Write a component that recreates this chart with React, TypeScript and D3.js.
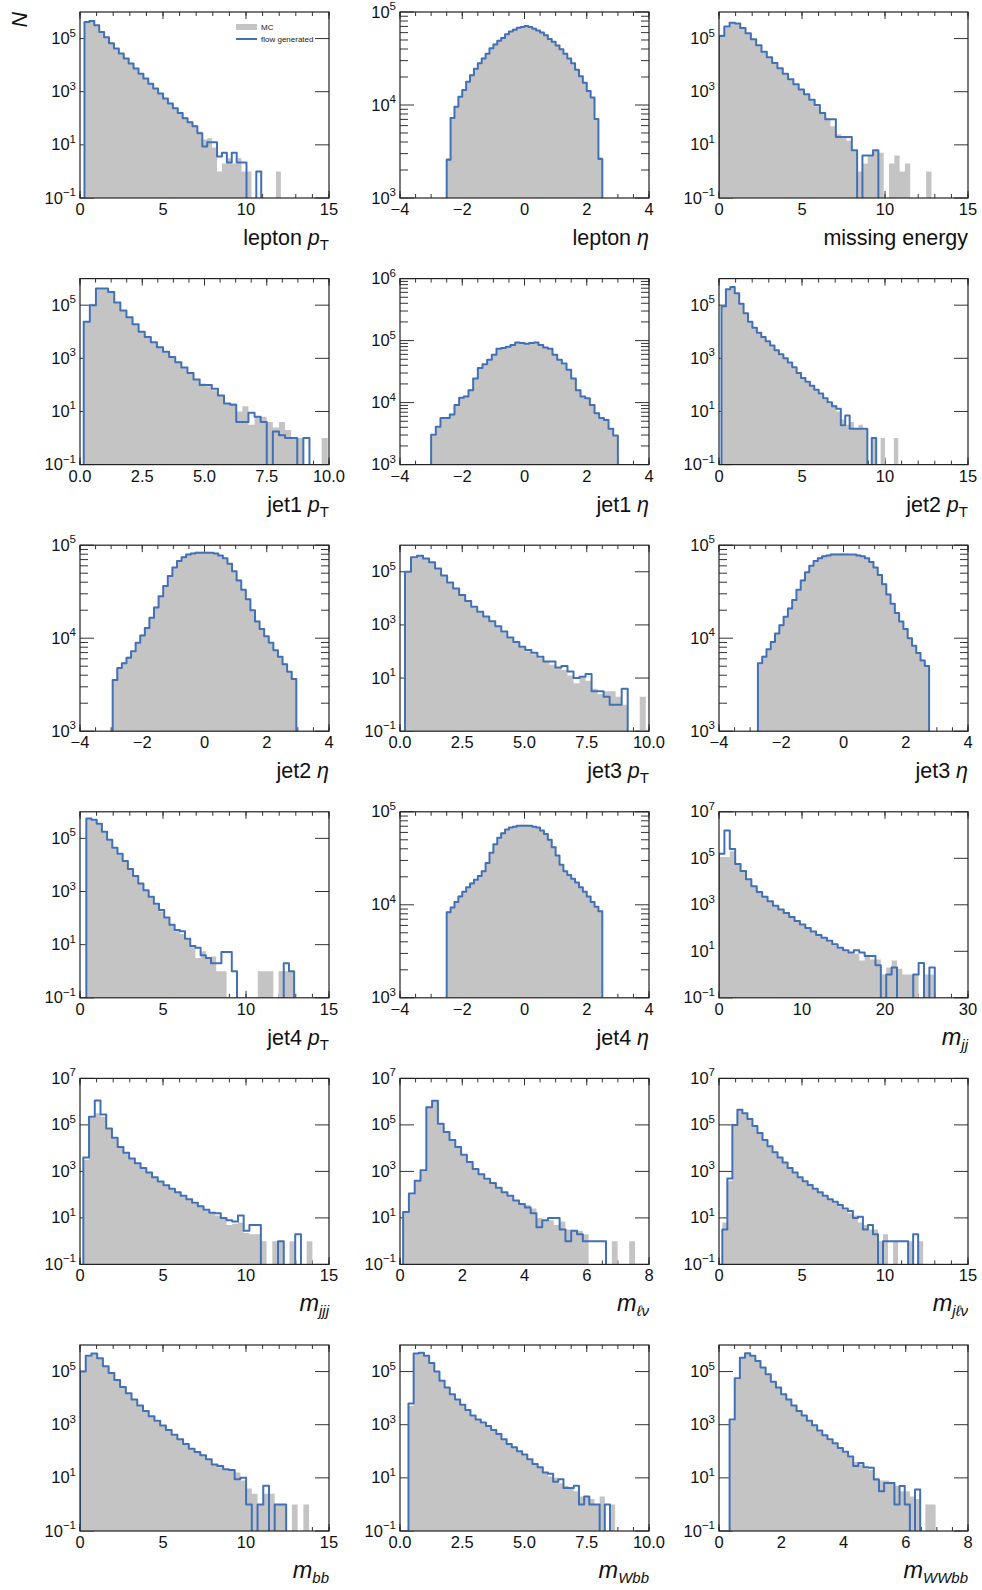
import React from 'react'
import * as d3 from 'd3'

type Series = (number | null)[]

// bin contents are log10(N); null = empty bin
// every histogram has 40 equal bins between [first, last] edge

const leptonPtBins = [0.27, 12.1]
const leptonPtFlow: Series = [5.62, 5.66, 5.5, 5.25, 5.05, 4.82, 4.63, 4.44, 4.25, 4.06, 3.87, 3.68, 3.5, 3.3, 3.12, 2.93, 2.74, 2.56, 2.38, 2.2, 2.0, 1.85, 1.7, 1.44, 0.94, 1.1, 1.1, 0.56, 0.7, 0.34, 0.7, 0.34, 0.34, null, null, 0.0, null, null, null, null]
const leptonPtMC: Series = [5.6, 5.65, 5.52, 5.27, 5.05, 4.84, 4.64, 4.45, 4.26, 4.07, 3.88, 3.7, 3.5, 3.32, 3.13, 2.95, 2.76, 2.58, 2.4, 2.2, 2.05, 1.9, 1.75, 1.5, 1.2, 1.25, 0.9, 0.0, 0.3, 0.5, 0.3, 0.5, 0.0, 0.0, null, null, null, null, null, 0.0]

const leptonEtaBins = [-2.5, 2.5]
const leptonEtaFlow: Series = [3.41, 3.86, 3.98, 4.09, 4.16, 4.25, 4.32, 4.39, 4.45, 4.5, 4.55, 4.61, 4.65, 4.69, 4.72, 4.76, 4.79, 4.81, 4.83, 4.84, 4.85, 4.84, 4.82, 4.8, 4.78, 4.75, 4.71, 4.68, 4.64, 4.6, 4.55, 4.5, 4.45, 4.38, 4.31, 4.24, 4.15, 4.08, 3.85, 3.42]
const leptonEtaMC: Series = [3.43, 3.87, 3.99, 4.09, 4.17, 4.25, 4.33, 4.39, 4.45, 4.51, 4.56, 4.61, 4.66, 4.69, 4.73, 4.76, 4.79, 4.82, 4.83, 4.85, 4.85, 4.84, 4.83, 4.8, 4.78, 4.75, 4.72, 4.68, 4.64, 4.6, 4.56, 4.5, 4.45, 4.39, 4.31, 4.24, 4.16, 4.08, 3.86, 3.44]

const missingEBins = [0, 12.8]
const missingEFlow: Series = [5.1, 5.45, 5.6, 5.57, 5.4, 5.2, 4.97, 4.75, 4.5, 4.3, 4.08, 3.88, 3.68, 3.47, 3.28, 3.08, 2.9, 2.7, 2.5, 2.2, 1.96, 1.96, 1.3, 1.3, 1.3, 0.8, null, 0.6, 0.6, 0.8, null, null, null, null, null, null, null, null, null, null]
const missingEMC: Series = [5.15, 5.42, 5.58, 5.55, 5.38, 5.18, 4.95, 4.73, 4.5, 4.28, 4.06, 3.86, 3.66, 3.47, 3.27, 3.07, 2.88, 2.68, 2.45, 2.25, 2.0, 1.7, 1.4, 1.3, 1.15, 0.8, 0.0, 0.3, 0.6, 0.8, 0.7, null, 0.3, 0.6, 0.0, 0.3, null, null, null, 0.0]

const jet1PtBins = [0.15, 9.95]
const jet1PtFlow: Series = [4.38, 5.0, 5.63, 5.63, 5.5, 5.1, 4.8, 4.55, 4.28, 4.0, 3.8, 3.6, 3.42, 3.25, 3.05, 2.85, 2.65, 2.45, 2.2, 2.0, 2.0, 1.85, 1.6, 1.3, 1.25, 0.6, 0.6, 0.95, 0.8, 0.6, null, 0.25, 0.1, 0.0, 0.0, null, 0.0, null, null, null]
const jet1PtMC: Series = [4.4, 5.05, 5.6, 5.62, 5.48, 5.1, 4.8, 4.55, 4.28, 4.0, 3.78, 3.58, 3.4, 3.23, 3.05, 2.85, 2.65, 2.45, 2.2, 2.05, 1.95, 1.8, 1.6, 1.3, 1.3, 1.0, 1.2, 0.5, 0.8, 0.8, 0.6, 0.4, 0.6, 0.3, 0.0, 0.0, null, null, null, 0.0]

const jet1EtaBins = [-3, 3]
const jet1EtaFlow: Series = [3.48, 3.61, 3.75, 3.75, 3.81, 3.96, 4.08, 4.1, 4.2, 4.39, 4.56, 4.62, 4.69, 4.77, 4.87, 4.88, 4.9, 4.93, 4.97, 4.96, 4.95, 4.96, 4.97, 4.93, 4.89, 4.87, 4.77, 4.69, 4.63, 4.53, 4.39, 4.2, 4.1, 4.07, 3.96, 3.83, 3.75, 3.72, 3.58, 3.47]
const jet1EtaMC: Series = [3.47, 3.62, 3.74, 3.76, 3.82, 3.95, 4.07, 4.11, 4.21, 4.38, 4.55, 4.62, 4.7, 4.78, 4.86, 4.88, 4.91, 4.93, 4.96, 4.96, 4.95, 4.95, 4.96, 4.93, 4.9, 4.86, 4.78, 4.7, 4.62, 4.53, 4.38, 4.21, 4.11, 4.06, 3.96, 3.84, 3.76, 3.71, 3.59, 3.46]

const jet2PtBins = [0.15, 10.8]
const jet2PtFlow: Series = [4.95, 5.6, 5.68, 5.45, 5.05, 4.7, 4.38, 4.15, 3.96, 3.8, 3.64, 3.48, 3.3, 3.15, 3.0, 2.84, 2.66, 2.45, 2.26, 2.12, 1.97, 1.82, 1.68, 1.5, 1.35, 1.2, 1.1, 0.48, 0.85, 0.35, 0.35, 0.35, 0.35, null, 0.0, null, null, null, null, null]
const jet2PtMC: Series = [4.9, 5.58, 5.66, 5.45, 5.05, 4.7, 4.38, 4.15, 3.96, 3.78, 3.62, 3.46, 3.28, 3.12, 2.98, 2.82, 2.64, 2.43, 2.25, 2.1, 1.95, 1.8, 1.65, 1.45, 1.3, 1.25, 1.0, 0.7, 0.5, 0.6, 0.35, 0.5, 0.35, null, 0.0, null, 0.0, null, null, 0.0]

const jet2EtaBins = [-2.95, 2.95]
const jet2EtaFlow: Series = [3.55, 3.68, 3.73, 3.79, 3.86, 3.95, 4.03, 4.11, 4.22, 4.33, 4.45, 4.56, 4.67, 4.76, 4.83, 4.87, 4.9, 4.91, 4.92, 4.92, 4.92, 4.92, 4.91, 4.89, 4.86, 4.8, 4.72, 4.62, 4.52, 4.42, 4.3, 4.18, 4.1, 4.02, 3.95, 3.87, 3.8, 3.72, 3.64, 3.56]
const jet2EtaMC: Series = [3.56, 3.67, 3.74, 3.8, 3.85, 3.95, 4.04, 4.12, 4.22, 4.34, 4.45, 4.57, 4.67, 4.76, 4.83, 4.88, 4.9, 4.92, 4.93, 4.93, 4.93, 4.92, 4.91, 4.89, 4.86, 4.8, 4.72, 4.63, 4.52, 4.41, 4.3, 4.19, 4.1, 4.02, 3.94, 3.87, 3.8, 3.73, 3.64, 3.57]

const jet3PtBins = [0.2, 9.87]
const jet3PtFlow: Series = [5.0, 5.55, 5.6, 5.5, 5.36, 5.12, 4.86, 4.6, 4.37, 4.13, 3.9, 3.68, 3.5, 3.32, 3.14, 2.95, 2.75, 2.53, 2.36, 2.18, 2.06, 1.95, 1.8, 1.62, 1.62, 1.4, 1.45, 1.25, 1.0, 1.05, 1.15, 0.5, 0.5, 0.3, 0.0, 0.0, 0.6, null, null, null]
const jet3PtMC: Series = [4.95, 5.5, 5.58, 5.5, 5.35, 5.1, 4.85, 4.58, 4.35, 4.1, 3.88, 3.66, 3.47, 3.3, 3.1, 2.92, 2.72, 2.5, 2.33, 2.15, 2.0, 1.9, 1.75, 1.6, 1.5, 1.4, 1.3, 1.1, 0.8, 1.0, 0.9, 0.6, 0.4, 0.5, 0.5, 0.3, 0.0, null, null, 0.3]

const jet3EtaBins = [-2.75, 2.75]
const jet3EtaFlow: Series = [3.73, 3.8, 3.88, 3.96, 4.05, 4.14, 4.23, 4.32, 4.41, 4.52, 4.62, 4.71, 4.78, 4.83, 4.86, 4.88, 4.89, 4.9, 4.9, 4.9, 4.9, 4.9, 4.9, 4.89, 4.88, 4.86, 4.82, 4.76, 4.68, 4.58, 4.47, 4.37, 4.27, 4.18, 4.1, 4.0, 3.92, 3.84, 3.76, 3.7]
const jet3EtaMC: Series = [3.72, 3.81, 3.88, 3.97, 4.05, 4.15, 4.23, 4.33, 4.42, 4.52, 4.63, 4.71, 4.78, 4.83, 4.87, 4.89, 4.9, 4.91, 4.91, 4.91, 4.91, 4.9, 4.9, 4.9, 4.88, 4.86, 4.82, 4.76, 4.68, 4.59, 4.48, 4.37, 4.27, 4.18, 4.09, 4.0, 3.92, 3.84, 3.77, 3.7]

const jet4PtBins = [0.38, 12.9]
const jet4PtFlow: Series = [5.75, 5.7, 5.55, 5.25, 4.95, 4.65, 4.42, 4.15, 3.85, 3.58, 3.3, 3.05, 2.8, 2.54, 2.3, 2.02, 1.75, 1.55, 1.5, 1.22, 0.95, 0.88, 0.6, 0.5, 0.3, 0.3, 0.72, 0.72, 0.0, null, null, null, null, null, null, null, null, null, 0.3, 0.0]
const jet4PtMC: Series = [5.72, 5.68, 5.52, 5.22, 4.93, 4.63, 4.4, 4.12, 3.83, 3.55, 3.28, 3.02, 2.78, 2.5, 2.25, 2.0, 1.75, 1.5, 1.4, 1.2, 0.9, 0.5, 0.75, 0.5, 0.55, 0.0, 0.0, null, null, null, null, null, null, 0.0, 0.0, 0.0, null, 0.0, 0.0, 0.0]

const jet4EtaBins = [-2.5, 2.5]
const jet4EtaFlow: Series = [3.92, 3.97, 4.03, 4.09, 4.14, 4.19, 4.23, 4.27, 4.31, 4.36, 4.45, 4.56, 4.65, 4.72, 4.77, 4.81, 4.83, 4.84, 4.85, 4.85, 4.85, 4.85, 4.84, 4.83, 4.8, 4.76, 4.7, 4.62, 4.53, 4.43, 4.36, 4.32, 4.28, 4.24, 4.19, 4.14, 4.09, 4.03, 3.98, 3.93]
const jet4EtaMC: Series = [3.93, 3.98, 4.03, 4.1, 4.14, 4.19, 4.24, 4.27, 4.32, 4.36, 4.46, 4.56, 4.65, 4.72, 4.78, 4.81, 4.83, 4.85, 4.85, 4.86, 4.86, 4.85, 4.84, 4.83, 4.8, 4.76, 4.7, 4.63, 4.53, 4.44, 4.36, 4.32, 4.28, 4.24, 4.19, 4.14, 4.09, 4.04, 3.98, 3.94]

const mjjBins = [0, 26]
const mjjFlow: Series = [5.2, 6.2, 5.4, 4.75, 4.45, 4.1, 3.8, 3.55, 3.35, 3.15, 2.96, 2.8, 2.65, 2.48, 2.3, 2.15, 2.0, 1.85, 1.7, 1.58, 1.45, 1.3, 1.15, 1.05, 0.95, 1.05, 0.95, 0.8, 0.8, 0.4, null, 0.0, 0.3, null, null, null, 0.0, 0.5, null, 0.3]
const mjjMC: Series = [5.05, 5.05, 5.3, 4.72, 4.42, 4.08, 3.78, 3.52, 3.32, 3.12, 2.94, 2.78, 2.62, 2.45, 2.28, 2.12, 1.97, 1.82, 1.67, 1.55, 1.4, 1.25, 1.1, 1.0, 0.95, 0.9, 0.6, 0.85, 0.65, 0.65, 0.0, 0.3, 0.6, 0.25, 0.0, 0.0, 0.0, null, 0.0, 0.0]

const mjjjBins = [0.2, 14.0]
const mjjjFlow: Series = [3.6, 5.35, 6.05, 5.45, 4.85, 4.45, 4.05, 3.8, 3.55, 3.35, 3.15, 2.95, 2.75, 2.57, 2.4, 2.25, 2.1, 1.95, 1.8, 1.65, 1.5, 1.35, 1.22, 1.2, 1.0, 0.9, 0.85, 1.1, 0.45, 0.7, 0.7, null, null, null, 0.0, null, null, 0.3, null, null]
const mjjjMC: Series = [3.5, 5.3, 5.5, 5.35, 4.82, 4.43, 4.03, 3.78, 3.53, 3.33, 3.13, 2.93, 2.73, 2.55, 2.38, 2.23, 2.08, 1.93, 1.78, 1.62, 1.48, 1.3, 1.2, 1.1, 1.0, 0.7, 0.75, 0.8, 0.35, 0.3, 0.3, 0.0, null, 0.0, 0.0, null, 0.0, null, null, 0.0]

const mlvBins = [0.1, 7.55]
const mlvFlow: Series = [1.25, 2.05, 2.6, 3.05, 5.76, 6.04, 5.05, 4.7, 4.35, 4.05, 3.72, 3.4, 3.1, 2.88, 2.68, 2.5, 2.3, 2.1, 1.95, 1.75, 1.6, 1.45, 1.2, 0.6, 0.9, 1.0, 1.0, 0.5, 0.0, 0.45, 0.3, 0.0, 0.0, 0.0, 0.0, null, null, null, null, null]
const mlvMC: Series = [1.3, 2.0, 2.6, 3.0, 5.78, 6.02, 5.05, 4.68, 4.33, 4.03, 3.7, 3.38, 3.08, 2.86, 2.65, 2.47, 2.27, 2.08, 1.93, 1.73, 1.58, 1.55, 1.4, 1.0, 0.9, 0.9, 0.7, 0.85, 0.5, 0.45, 0.45, 0.3, null, null, null, null, 0.0, null, null, 0.0]

const mjlvBins = [0.2, 12.3]
const mjlvFlow: Series = [0.5, 2.7, 5.0, 5.65, 5.5, 5.25, 4.95, 4.65, 4.35, 4.08, 3.82, 3.6, 3.38, 3.15, 2.95, 2.75, 2.58, 2.42, 2.25, 2.1, 1.95, 1.8, 1.7, 1.55, 1.4, 1.3, 1.0, 1.05, 0.5, 0.7, 0.3, null, 0.0, 0.0, 0.0, 0.0, 0.0, null, 0.3, null]
const mjlvMC: Series = [0.8, 2.6, 4.95, 5.62, 5.5, 5.23, 4.93, 4.63, 4.33, 4.06, 3.8, 3.58, 3.36, 3.13, 2.93, 2.73, 2.56, 2.4, 2.23, 2.08, 1.93, 1.78, 1.65, 1.5, 1.35, 1.2, 1.1, 0.8, 0.7, 0.5, 0.5, 0.0, 0.3, null, 0.0, null, null, 0.0, null, 0.0]

const mbbBins = [0, 13.8]
const mbbFlow: Series = [5.0, 5.6, 5.68, 5.5, 5.2, 4.95, 4.68, 4.42, 4.18, 3.95, 3.72, 3.52, 3.32, 3.15, 2.97, 2.8, 2.62, 2.45, 2.27, 2.1, 1.97, 1.85, 1.7, 1.5, 1.45, 1.32, 1.3, 0.95, 1.0, 0.0, null, 0.0, 0.7, null, 0.0, 0.0, null, null, null, null]
const mbbMC: Series = [5.05, 5.55, 5.65, 5.5, 5.2, 4.93, 4.66, 4.4, 4.16, 3.93, 3.7, 3.5, 3.3, 3.12, 2.95, 2.78, 2.6, 2.43, 2.25, 2.08, 1.95, 1.82, 1.68, 1.5, 1.4, 1.3, 1.3, 1.2, 0.9, 0.6, 0.4, 0.0, 0.4, 0.4, 0.0, 0.0, null, 0.0, null, 0.0]

const mwbbBins = [0.34, 8.64]
const mwbbFlow: Series = [3.8, 5.68, 5.71, 5.6, 5.32, 5.0, 4.65, 4.4, 4.15, 3.95, 3.75, 3.55, 3.35, 3.2, 3.08, 2.95, 2.8, 2.65, 2.45, 2.27, 2.15, 2.0, 1.88, 1.7, 1.52, 1.4, 1.2, 1.15, 0.85, 0.95, 0.62, 0.62, 0.7, 0.0, 0.3, 0.0, 0.0, null, 0.0, null]
const mwbbMC: Series = [3.7, 5.65, 5.7, 5.58, 5.3, 4.98, 4.63, 4.38, 4.13, 3.93, 3.73, 3.53, 3.33, 3.18, 3.05, 2.92, 2.77, 2.62, 2.43, 2.25, 2.12, 1.98, 1.85, 1.68, 1.5, 1.38, 1.2, 1.05, 1.0, 0.8, 0.7, 0.6, 0.5, 0.3, 0.3, 0.2, 0.0, 0.3, null, 0.0]

const mwwbbBins = [0.34, 6.96]
const mwwbbFlow: Series = [3.2, 4.75, 5.52, 5.69, 5.6, 5.4, 5.15, 4.9, 4.62, 4.4, 4.15, 3.95, 3.72, 3.52, 3.35, 3.15, 2.98, 2.78, 2.6, 2.45, 2.3, 2.12, 1.98, 1.8, 1.45, 1.56, 1.4, 1.38, 0.94, 0.5, 0.81, 0.81, 0.0, 0.69, 0.0, null, 0.56, null, null, null]
const mwwbbMC: Series = [3.15, 4.7, 5.5, 5.67, 5.58, 5.38, 5.13, 4.88, 4.6, 4.38, 4.13, 3.93, 3.7, 3.5, 3.33, 3.13, 2.96, 2.76, 2.58, 2.42, 2.27, 2.1, 1.95, 1.78, 1.6, 1.5, 1.35, 1.3, 1.0, 0.9, 0.9, 0.8, 0.7, 0.5, 0.5, 0.3, 0.2, null, 0.0, 0.0]

// x-axis ticks
const ticks15 = [0, 5, 10, 15]
const ticks10 = [0, 2.5, 5, 7.5, 10]
const ticksEta = [-4, -2, 0, 2, 4]
const ticks30 = [0, 10, 20, 30]
const ticks8 = [0, 2, 4, 6, 8]

type Label = { pre?: string; sym?: string; sub?: string; subItalic?: boolean }

const panels: { label: Label; ticks: number[]; bins: number[]; yExp: number[]; mc: Series; flow: Series }[] = [
  { label: { pre: 'lepton ', sym: 'p', sub: 'T' }, ticks: ticks15, bins: leptonPtBins, yExp: [-1, 6], mc: leptonPtMC, flow: leptonPtFlow },
  { label: { pre: 'lepton ', sym: 'η' }, ticks: ticksEta, bins: leptonEtaBins, yExp: [3, 5], mc: leptonEtaMC, flow: leptonEtaFlow },
  { label: { pre: 'missing energy' }, ticks: ticks15, bins: missingEBins, yExp: [-1, 6], mc: missingEMC, flow: missingEFlow },
  { label: { pre: 'jet1 ', sym: 'p', sub: 'T' }, ticks: ticks10, bins: jet1PtBins, yExp: [-1, 6], mc: jet1PtMC, flow: jet1PtFlow },
  { label: { pre: 'jet1 ', sym: 'η' }, ticks: ticksEta, bins: jet1EtaBins, yExp: [3, 6], mc: jet1EtaMC, flow: jet1EtaFlow },
  { label: { pre: 'jet2 ', sym: 'p', sub: 'T' }, ticks: ticks15, bins: jet2PtBins, yExp: [-1, 6], mc: jet2PtMC, flow: jet2PtFlow },
  { label: { pre: 'jet2 ', sym: 'η' }, ticks: ticksEta, bins: jet2EtaBins, yExp: [3, 5], mc: jet2EtaMC, flow: jet2EtaFlow },
  { label: { pre: 'jet3 ', sym: 'p', sub: 'T' }, ticks: ticks10, bins: jet3PtBins, yExp: [-1, 6], mc: jet3PtMC, flow: jet3PtFlow },
  { label: { pre: 'jet3 ', sym: 'η' }, ticks: ticksEta, bins: jet3EtaBins, yExp: [3, 5], mc: jet3EtaMC, flow: jet3EtaFlow },
  { label: { pre: 'jet4 ', sym: 'p', sub: 'T' }, ticks: ticks15, bins: jet4PtBins, yExp: [-1, 6], mc: jet4PtMC, flow: jet4PtFlow },
  { label: { pre: 'jet4 ', sym: 'η' }, ticks: ticksEta, bins: jet4EtaBins, yExp: [3, 5], mc: jet4EtaMC, flow: jet4EtaFlow },
  { label: { sym: 'm', sub: 'jj', subItalic: true }, ticks: ticks30, bins: mjjBins, yExp: [-1, 7], mc: mjjMC, flow: mjjFlow },
  { label: { sym: 'm', sub: 'jjj', subItalic: true }, ticks: ticks15, bins: mjjjBins, yExp: [-1, 7], mc: mjjjMC, flow: mjjjFlow },
  { label: { sym: 'm', sub: 'ℓν', subItalic: true }, ticks: ticks8, bins: mlvBins, yExp: [-1, 7], mc: mlvMC, flow: mlvFlow },
  { label: { sym: 'm', sub: 'jℓν', subItalic: true }, ticks: ticks15, bins: mjlvBins, yExp: [-1, 7], mc: mjlvMC, flow: mjlvFlow },
  { label: { sym: 'm', sub: 'bb', subItalic: true }, ticks: ticks15, bins: mbbBins, yExp: [-1, 6], mc: mbbMC, flow: mbbFlow },
  { label: { sym: 'm', sub: 'Wbb', subItalic: true }, ticks: ticks10, bins: mwbbBins, yExp: [-1, 6], mc: mwbbMC, flow: mwbbFlow },
  { label: { sym: 'm', sub: 'WWbb', subItalic: true }, ticks: ticks8, bins: mwwbbBins, yExp: [-1, 6], mc: mwwbbMC, flow: mwwbbFlow },
]

const FONT = '"Liberation Sans", Arial, "DejaVu Sans", sans-serif'
const MC_COLOR = '#c4c4c4'
const FLOW_COLOR = '#4270b6'
const colX = [80, 400, 719]
const top0 = 12
const rowStep = 266.6
const W = 249
const H = 186

const Panel = ({ p, idx }: { p: (typeof panels)[number]; idx: number }) => {
  const left = colX[idx % 3]
  const topY = top0 + Math.floor(idx / 3) * rowStep
  const bottom = topY + H
  const right = left + W

  const x = d3.scaleLinear().domain([p.ticks[0], p.ticks[p.ticks.length - 1]]).range([left, right])
  const y = d3.scaleLog().domain([10 ** p.yExp[0], 10 ** p.yExp[1]]).range([bottom, topY])
  const yv = (v: number | null) => (v == null ? bottom + 4 : y(10 ** v))

  const n = p.flow.length
  const edges = d3.range(n + 1).map(i => p.bins[0] + ((p.bins[1] - p.bins[0]) * i) / n)

  const mcPts: [number, number | null][] = edges.map((e, i) => [e, p.mc[Math.min(i, n - 1)]])
  const area = d3.area<[number, number | null]>()
    .x(d => x(d[0]))
    .y0(bottom + 4)
    .y1(d => yv(d[1]))
    .curve(d3.curveStepAfter)

  const flowPts: [number, number | null][] = [
    [edges[0], null],
    ...edges.map((e, i) => [e, p.flow[Math.min(i, n - 1)]] as [number, number | null]),
    [edges[n], null],
  ]
  const line = d3.line<[number, number | null]>()
    .x(d => x(d[0]))
    .y(d => yv(d[1]))
    .curve(d3.curveStepAfter)

  // y ticks
  const span = p.yExp[1] - p.yExp[0]
  const yMajor = d3.range(p.yExp[0], p.yExp[1] + 0.001, span > 3 ? 2 : 1)
  const yMinor = span > 3 ? [] : d3.range(p.yExp[0], p.yExp[1]).flatMap(e => d3.range(2, 10).map(m => m * 10 ** e))

  // x ticks
  const step = p.ticks[1] - p.ticks[0]
  const ndiv = step === 5 || step === 10 ? 5 : 4
  const xMinor = d3.range(p.ticks[0], p.ticks[p.ticks.length - 1] + 1e-9, step / ndiv)
  const fmt = d3.format(step % 1 ? '.1f' : 'd')

  const clipId = `clip${idx}`
  const tk = '#333'

  return (
    <g>
      <defs>
        <clipPath id={clipId}>
          <rect x={left} y={topY} width={W} height={H} />
        </clipPath>
      </defs>
      {/* ticks, under the histograms */}
      <g stroke={tk} strokeWidth={1}>
        {yMajor.map(e => (
          <g key={`ym${e}`}>
            <line x1={left} x2={left + 14} y1={y(10 ** e)} y2={y(10 ** e)} />
            <line x1={right - 14} x2={right} y1={y(10 ** e)} y2={y(10 ** e)} />
          </g>
        ))}
        {yMinor.map(v => (
          <g key={`yn${v}`}>
            <line x1={left} x2={left + 8} y1={y(v)} y2={y(v)} />
            <line x1={right - 8} x2={right} y1={y(v)} y2={y(v)} />
          </g>
        ))}
        {xMinor.map(v => (
          <g key={`xn${v}`}>
            <line x1={x(v)} x2={x(v)} y1={bottom} y2={bottom - 4} />
            <line x1={x(v)} x2={x(v)} y1={topY} y2={topY + 4} />
          </g>
        ))}
        {p.ticks.map(v => (
          <g key={`xm${v}`}>
            <line x1={x(v)} x2={x(v)} y1={bottom} y2={bottom - 7} />
            <line x1={x(v)} x2={x(v)} y1={topY} y2={topY + 7} />
          </g>
        ))}
      </g>
      <g clipPath={`url(#${clipId})`}>
        <path d={area(mcPts) || ''} fill={MC_COLOR} />
        <path d={line(flowPts) || ''} fill="none" stroke={FLOW_COLOR} strokeWidth={2} strokeLinejoin="round" />
      </g>
      <rect x={left} y={topY} width={W} height={H} fill="none" stroke="#222" strokeWidth={1.2} />
      {/* tick labels */}
      <g fontFamily={FONT} fill="#111">
        {yMajor.map(e => (
          <text key={`yl${e}`} x={left - 4} y={y(10 ** e) + 5.5} textAnchor="end" fontSize={16.5}>
            10<tspan dy={-7.5} fontSize={11.5}>{d3.format('d')(e)}</tspan>
          </text>
        ))}
        {p.ticks.map(v => (
          <text key={`xl${v}`} x={x(v)} y={bottom + 17} textAnchor="middle" fontSize={16.5}>
            {fmt(v)}
          </text>
        ))}
        <text x={right} y={bottom + 47} textAnchor="end" fontSize={21.5}>
          {p.label.pre}
          {p.label.sym && <tspan fontStyle="italic" fontSize={p.label.sym === 'm' ? 23.5 : 21.5}>{p.label.sym}</tspan>}
          {p.label.sub && (
            <tspan dy={5} fontSize={15} fontStyle={p.label.subItalic ? 'italic' : 'normal'}>{p.label.sub}</tspan>
          )}
        </text>
      </g>
    </g>
  )
}

const App = () => {
  return (
    <svg width={982} height={1590} style={{ position: 'absolute', left: 0, top: 0, background: '#fff' }}>
      <rect width={982} height={1590} fill="#fff" />
      {panels.map((p, i) => (
        <Panel key={i} p={p} idx={i} />
      ))}
      <text transform="translate(27,12) rotate(-90)" textAnchor="end" fontFamily={FONT} fontStyle="italic" fontSize={21.5} fill="#111">
        N
      </text>
      {/* legend */}
      <g fontFamily={FONT} fontSize={8} fill="#222">
        <rect x={236} y={24} width={21} height={6} fill={MC_COLOR} />
        <text x={261} y={30}>MC</text>
        <line x1={236} x2={257} y1={39} y2={39} stroke={FLOW_COLOR} strokeWidth={2} />
        <text x={261} y={42}>flow generated</text>
      </g>
    </svg>
  )
}

export default App
